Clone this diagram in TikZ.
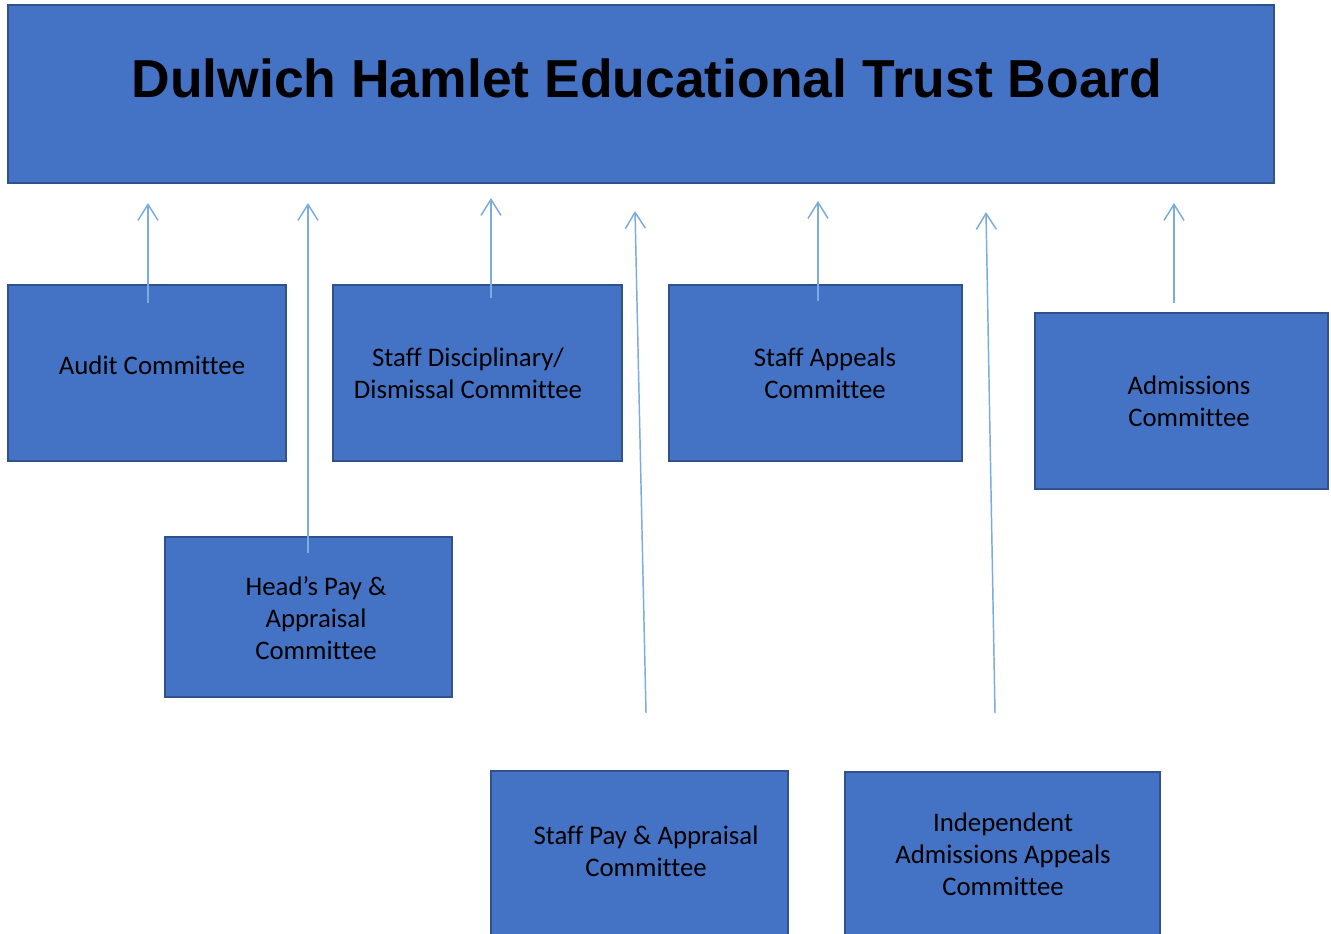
\documentclass[tikz,border=0pt]{standalone}
\usepackage{fontspec}
\setmainfont[Ligatures={NoCommon}]{Carlito}
\newfontfamily\titlefont{Liberation Sans}
\usetikzlibrary{arrows.meta}
\definecolor{boxfill}{HTML}{4472C4}
\definecolor{boxline}{HTML}{2F528F}
\definecolor{linkline}{RGB}{122,172,222}
\begin{document}
\begin{tikzpicture}[x=0.75pt,y=-0.75pt,
  panel/.style={draw=boxline,fill=boxfill,line width=1.8pt,inner sep=0pt,outer sep=0pt},
  caption/.style={align=center,inner sep=0pt,font=\fontsize{20.1pt}{24pt}\selectfont},
  link/.style={draw=linkline,line width=1.1pt,-{Straight Barb[length=12pt,width=15pt,line width=1.1pt]}}]
\useasboundingbox[fill=white] (0,0) rectangle (1331,933);
% board and committee boxes
\path[panel] (8,5) rectangle (1274,183) node[midway] (board) {};
\path[panel] (8,285) rectangle (286,461) node[midway] (audit) {};
\path[panel] (333,285) rectangle (622,461) node[midway] (disc) {};
\path[panel] (669,285) rectangle (962,461) node[midway] (appeals) {};
\path[panel] (1035,313) rectangle (1328,489) node[midway] (adm) {};
\path[panel] (165,537) rectangle (452,697) node[midway] (headpay) {};
\path[panel] (491,771) rectangle (788,940) node[midway] (staffpay) {};
\path[panel] (845,772) rectangle (1160,940) node[midway] (iaac) {};
% texts
\node[inner sep=0pt,font=\titlefont\bfseries\fontsize{40.1pt}{44pt}\selectfont] (boardtxt) at (647,78) {Dulwich Hamlet Educational Trust Board};
\node[caption] (audittxt) at (152,365) {Audit Committee};
\node[caption] (disctxt) at (468,373) {Staff Disciplinary/\\Dismissal Committee};
\node[caption] (appealstxt) at (825,373) {Staff Appeals\\Committee};
\node[caption] (admtxt) at (1189,401) {Admissions\\Committee};
\node[caption] (headpaytxt) at (316,618) {Head’s Pay \&\\Appraisal\\Committee};
\node[caption] (staffpaytxt) at (646,851) {Staff Pay \& Appraisal\\Committee};
\node[caption] (iaactxt) at (1003,854) {Independent\\Admissions Appeals\\Committee};
% connector ends
\coordinate (a1) at (148,303); \coordinate (b1) at (148,203);
\coordinate (a2) at (308,553); \coordinate (b2) at (308,203);
\coordinate (a3) at (491,298); \coordinate (b3) at (491,198);
\coordinate (a4) at (646,713); \coordinate (b4) at (635,211);
\coordinate (a5) at (818,301); \coordinate (b5) at (818,201);
\coordinate (a6) at (995,713); \coordinate (b6) at (986,212);
\coordinate (a7) at (1174,303); \coordinate (b7) at (1174,203);
\foreach \i in {1,...,7} \draw[link] (a\i) -- (b\i);
\end{tikzpicture}
\end{document}
